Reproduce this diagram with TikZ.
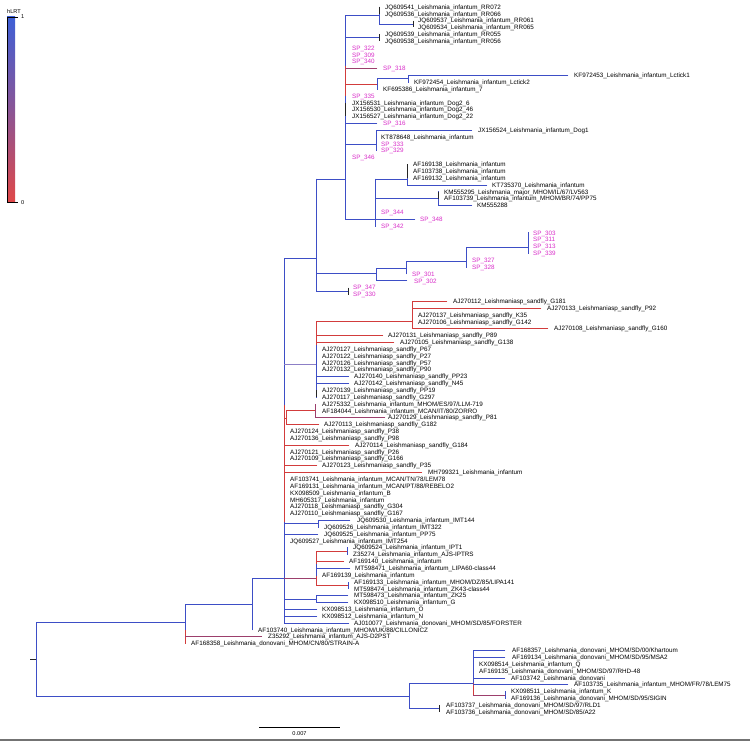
\documentclass[tikz,border=0pt]{standalone}
\usepackage{fontspec}
\usepackage{tikz}
\newfontfamily\arialfont{Liberation Sans}
\definecolor{brblue}{HTML}{3D4EC6}
\definecolor{brred}{HTML}{D23C3C}
\definecolor{brmaroon}{HTML}{9C3F6C}
\definecolor{brlilac}{HTML}{8C7FC6}
\definecolor{spink}{HTML}{D82DC8}
\definecolor{legblue}{HTML}{3E5FD6}
\definecolor{legmid}{HTML}{8A5596}
\definecolor{legred}{HTML}{E04848}

\tikzset{
  bb/.style={brblue, line width=0.9pt, line cap=rect},
  rb/.style={brred, line width=0.9pt, line cap=rect},
  mb/.style={brmaroon, line width=0.9pt, line cap=rect},
  lb/.style={brlilac, line width=0.9pt, line cap=rect},
  kb/.style={black!85, line width=0.9pt},
  lf/.style={anchor=base west, inner sep=0pt, yshift=-2.2pt, font=\arialfont\fontsize{6.3}{7}\selectfont},
  sp/.style={lf, text=spink},
}

\begin{document}
\begin{tikzpicture}[x=1pt, y=-1pt]
  \useasboundingbox (0,0) rectangle (750,741);

  \shade[top color=legblue, bottom color=legred, middle color=legmid] (7,17) rectangle (15,202);
  \draw[black, line width=0.8pt] (7,17) -- (7,202);
  \draw[black, line width=0.6pt] (7,17) -- (18,17);
  \draw[black, line width=0.6pt] (7,202) -- (18,202);
  \node[font=\arialfont\fontsize{5.6}{6}\selectfont] (legtitle) at (14,11) {hLRT};
  \node[font=\arialfont\fontsize{5.6}{6}\selectfont, anchor=west, inner sep=0pt] (legtop) at (21,17) {1};
  \node[font=\arialfont\fontsize{5.6}{6}\selectfont, anchor=west, inner sep=0pt] (legbot) at (21,203) {0};

  \draw[kb] (30,659) -- (36,659);

  \foreach \xa/\ya/\yb in {36/622/696, 185/604/630, 252/578/630, 284/258/405, 284/522/623.2,
      318/520.5/527.3, 316/595.8/602.6, 316/564/576, 347/547.9/554.7, 348/582.1/588.9,
      316/179/291.1, 376/268/280.8, 406/261/274, 466/247/267.1, 528/232.9/253.4,
      345/15.5/66, 345/96/219.2, 379/7/24.1, 377/78.9/89.1, 408/75.5/82.3, 376/130.2/150.8,
      375/179/226.1, 407/164.4/185, 438/191.8/205.5, 316/345/397.2,
      409/683/708.8, 473/650.6/683, 505/691.7/698.5}
    \draw[bb] (\xa,\ya) -- (\xa,\yb);
  \foreach \xa/\ya/\yb in {185/630/643.7, 284/405/522, 286/410.9/424.6, 316/551.3/564,
      316/576/585.5, 345/66/96, 316/321.9/345, 412/301.4/328.8, 473/683/695.1}
    \draw[rb] (\xa,\ya) -- (\xa,\yb);
  \draw[mb] (315,404.1) -- (315,417.8);
  \foreach \xa/\ya/\yb in {379/7/13.8, 413/20.7/27.5, 379/34.4/41.2, 345/102.8/116.5,
      407/164.4/178.1, 438/191.8/198.7, 348/287.7/294.5, 316/390.4/397.2, 439/705.4/712.2}
    \draw[kb] (\xa,\ya) -- (\xa,\yb);

  \foreach \xa/\xb/\y in {36/185/622, 36/409/696, 185/252/604, 252/284/578, 284/316/258,
      284/318/523.9, 318/350/520.5, 284/318/534.2, 284/316/599.2, 316/348/595.8, 316/348/602.6,
      284/317/609.5, 284/317/616.3, 284/349/623.2, 316/350/568.4,
      316/345/179, 316/376/273.3, 316/348/291.1, 376/406/268, 376/407/280.8, 406/466/261,
      466/528/247, 345/379/15.5, 379/413/24.1, 345/379/37.8, 377/408/78.9, 408/568/75.5,
      345/377/123.4, 345/376/144, 376/472/130.2, 345/415/219.2, 375/407/179, 407/487/185,
      375/438/198.7, 438/472/205.5, 316/349/376.7, 316/349/383.5,
      409/473/683, 409/439/708.8, 473/505/650.6, 473/505/657.4, 473/505/678, 473/568/684.8}
    \draw[bb] (\xa,\y) -- (\xb,\y);
  \foreach \xa/\xb/\y in {284/286/418, 286/315/410.9, 286/319/424.6, 284/349/445.2,
      284/317/465.7, 284/422/472.5, 316/347/551.3, 316/344/561.5, 316/348/585.5,
      345/377/84, 316/412/321.9, 412/447/301.4, 412/541/308.2, 412/548/328.8,
      316/383/335.6, 316/394/342.5}
    \draw[rb] (\xa,\y) -- (\xb,\y);
  \foreach \xa/\xb/\y in {185/262/636.9, 315/385/417.8, 284/316/578, 345/377/68.6, 473/505/695.1}
    \draw[mb] (\xa,\y) -- (\xb,\y);
  \draw[lb] (284,364) -- (316,364);

  \foreach \lx/\lr/\lt in {385/1/{JQ609541\_Leishmania\_infantum\_RR072},
      385/2/{JQ609536\_Leishmania\_infantum\_RR066}, 418/3/{JQ609537\_Leishmania\_infantum\_RR061},
      418/4/{JQ609534\_Leishmania\_infantum\_RR065}, 385/5/{JQ609539\_Leishmania\_infantum\_RR055},
      385/6/{JQ609538\_Leishmania\_infantum\_RR056}, 574/11/{KF972453\_Leishmania\_infantum\_Lctick1},
      414/12/{KF972454\_Leishmania\_infantum\_Lctick2}, 383/13/{KF695386\_Leishmania\_infantum\_7},
      352/15/{JX156531\_Leishmania\_infantum\_Dog2\_6}, 352/16/{JX156530\_Leishmania\_infantum\_Dog2\_46},
      352/17/{JX156527\_Leishmania\_infantum\_Dog2\_22}, 478/19/{JX156524\_Leishmania\_infantum\_Dog1},
      381/20/{KT878648\_Leishmania\_infantum}, 413/24/{AF169138\_Leishmania\_infantum},
      413/25/{AF103738\_Leishmania\_infantum}, 413/26/{AF169132\_Leishmania\_infantum},
      492/27/{KT735370\_Leishmania\_infantum}, 444/28/{KM555295\_Leishmania\_major\_MHOM/IL/67/LV563},
      444/29/{AF103739\_Leishmania\_infantum\_MHOM/BR/74/PP75}, 477/30/{KM555288},
      453/44/{AJ270112\_Leishmaniasp\_sandfly\_G181}, 547/45/{AJ270133\_Leishmaniasp\_sandfly\_P92},
      418/46/{AJ270137\_Leishmaniasp\_sandfly\_K35}, 418/47/{AJ270106\_Leishmaniasp\_sandfly\_G142},
      554/48/{AJ270108\_Leishmaniasp\_sandfly\_G160}, 388/49/{AJ270131\_Leishmaniasp\_sandfly\_P89},
      400/50/{AJ270105\_Leishmaniasp\_sandfly\_G138}, 322/51/{AJ270127\_Leishmaniasp\_sandfly\_P67},
      322/52/{AJ270122\_Leishmaniasp\_sandfly\_P27}, 322/53/{AJ270126\_Leishmaniasp\_sandfly\_P57},
      322/54/{AJ270132\_Leishmaniasp\_sandfly\_P90}, 354/55/{AJ270140\_Leishmaniasp\_sandfly\_PP23},
      354/56/{AJ270142\_Leishmaniasp\_sandfly\_N45}, 322/57/{AJ270139\_Leishmaniasp\_sandfly\_PP19},
      322/58/{AJ270117\_Leishmaniasp\_sandfly\_G297}, 322/59/{AJ275332\_Leishmania\_infantum\_MHOM/ES/97/LLM-719},
      322/60/{AF184044\_Leishmania\_infantum\_MCAN/IT/80/ZORRO}, 388/61/{AJ270129\_Leishmaniasp\_sandfly\_P81},
      324/62/{AJ270113\_Leishmaniasp\_sandfly\_G182}, 290/63/{AJ270124\_Leishmaniasp\_sandfly\_P38},
      290/64/{AJ270136\_Leishmaniasp\_sandfly\_P98}, 355/65/{AJ270114\_Leishmaniasp\_sandfly\_G184},
      290/66/{AJ270121\_Leishmaniasp\_sandfly\_P26}, 290/67/{AJ270109\_Leishmaniasp\_sandfly\_G166},
      322/68/{AJ270123\_Leishmaniasp\_sandfly\_P35}, 428/69/{MH799321\_Leishmania\_infantum},
      290/70/{AF103741\_Leishmania\_infantum\_MCAN/TN/78/LEM78}, 290/71/{AF169131\_Leishmania\_infantum\_MCAN/PT/88/REBELO2},
      290/72/{KX098509\_Leishmania\_infantum\_B}, 290/73/{MH605317\_Leishmania\_infantum},
      290/74/{AJ270118\_Leishmaniasp\_sandfly\_G304}, 290/75/{AJ270110\_Leishmaniasp\_sandfly\_G167},
      357/76/{JQ609530\_Leishmania\_infantum\_IMT144}, 324/77/{JQ609526\_Leishmania\_infantum\_IMT322},
      324/78/{JQ609525\_Leishmania\_infantum\_PP75}, 290/79/{JQ609527\_Leishmania\_infantum\_IMT254},
      353/80/{JQ609524\_Leishmania\_infantum\_IPT1}, 353/81/{Z35274\_Leishmania\_infantum\_AJS-IPTRS},
      349/82/{AF169140\_Leishmania\_infantum}, 355/83/{MT598471\_Leishmania\_infantum\_LIPA60-class44},
      322/84/{AF169139\_Leishmania\_infantum}, 354/85/{AF169133\_Leishmania\_infantum\_MHOM/DZ/85/LIPA141},
      354/86/{MT598474\_Leishmania\_infantum\_ZK43-class44}, 354/87/{MT598473\_Leishmania\_infantum\_ZK25},
      354/88/{KX098510\_Leishmania\_infantum\_G}, 322/89/{KX098513\_Leishmania\_infantum\_O},
      322/90/{KX098512\_Leishmania\_infantum\_N}, 354/91/{AJ010077\_Leishmania\_donovani\_MHOM/SD/85/FORSTER},
      258/92/{AF103740\_Leishmania\_infantum\_MHOM/UK/88/CILLONICZ}, 268/93/{Z35292\_Leishmania\_infantum\_AJS-D2PST},
      191/94/{AF168358\_Leishmania\_donovani\_MHOM/CN/80/STRAIN-A}, 512/95/{AF168357\_Leishmania\_donovani\_MHOM/SD/00/Khartoum},
      512/96/{AF169134\_Leishmania\_donovani\_MHOM/SD/95/MSA2}, 479/97/{KX098514\_Leishmania\_infantum\_Q},
      479/98/{AF169135\_Leishmania\_donovani\_MHOM/SD/97/RHD-48}, 511/99/{AF103742\_Leishmania\_donovani},
      574/100/{AF103735\_Leishmania\_infantum\_MHOM/FR/78/LEM75}, 511/101/{KX098511\_Leishmania\_infantum\_K},
      511/102/{AF169136\_Leishmania\_donovani\_MHOM/SD/95/SIGIN}, 446/103/{AF103737\_Leishmania\_donovani\_MHOM/SD/97/RLD1},
      446/104/{AF103736\_Leishmania\_donovani\_MHOM/SD/85/A22}}
    \node[lf] (tip\lr) at (\lx,{7+6.845*(\lr-1)}) {\lt};

  \foreach \lx/\lr/\lt in {352/7/322, 352/8/309, 352/9/340, 383/10/318, 352/14/335, 383/18/316,
      381/21/333, 381/22/329, 352/23/346, 381/31/344, 420/32/348, 381/33/342,
      533/34/303, 533/35/311, 533/36/313, 533/37/339, 472/38/327, 472/39/328,
      412/40/301, 414/41/302, 353/42/347, 353/43/330}
    \node[sp] (tip\lr) at (\lx,{7+6.845*(\lr-1)}) {SP\_\lt};

  \draw[black, line width=0.8pt] (259,727) -- (340,727);
  \node[font=\arialfont\fontsize{5.6}{6}\selectfont] (scalelab) at (299.5,734) {0.007};
  \draw[black!55, line width=2pt] (0,740) -- (750,740);
\end{tikzpicture}
\end{document}
